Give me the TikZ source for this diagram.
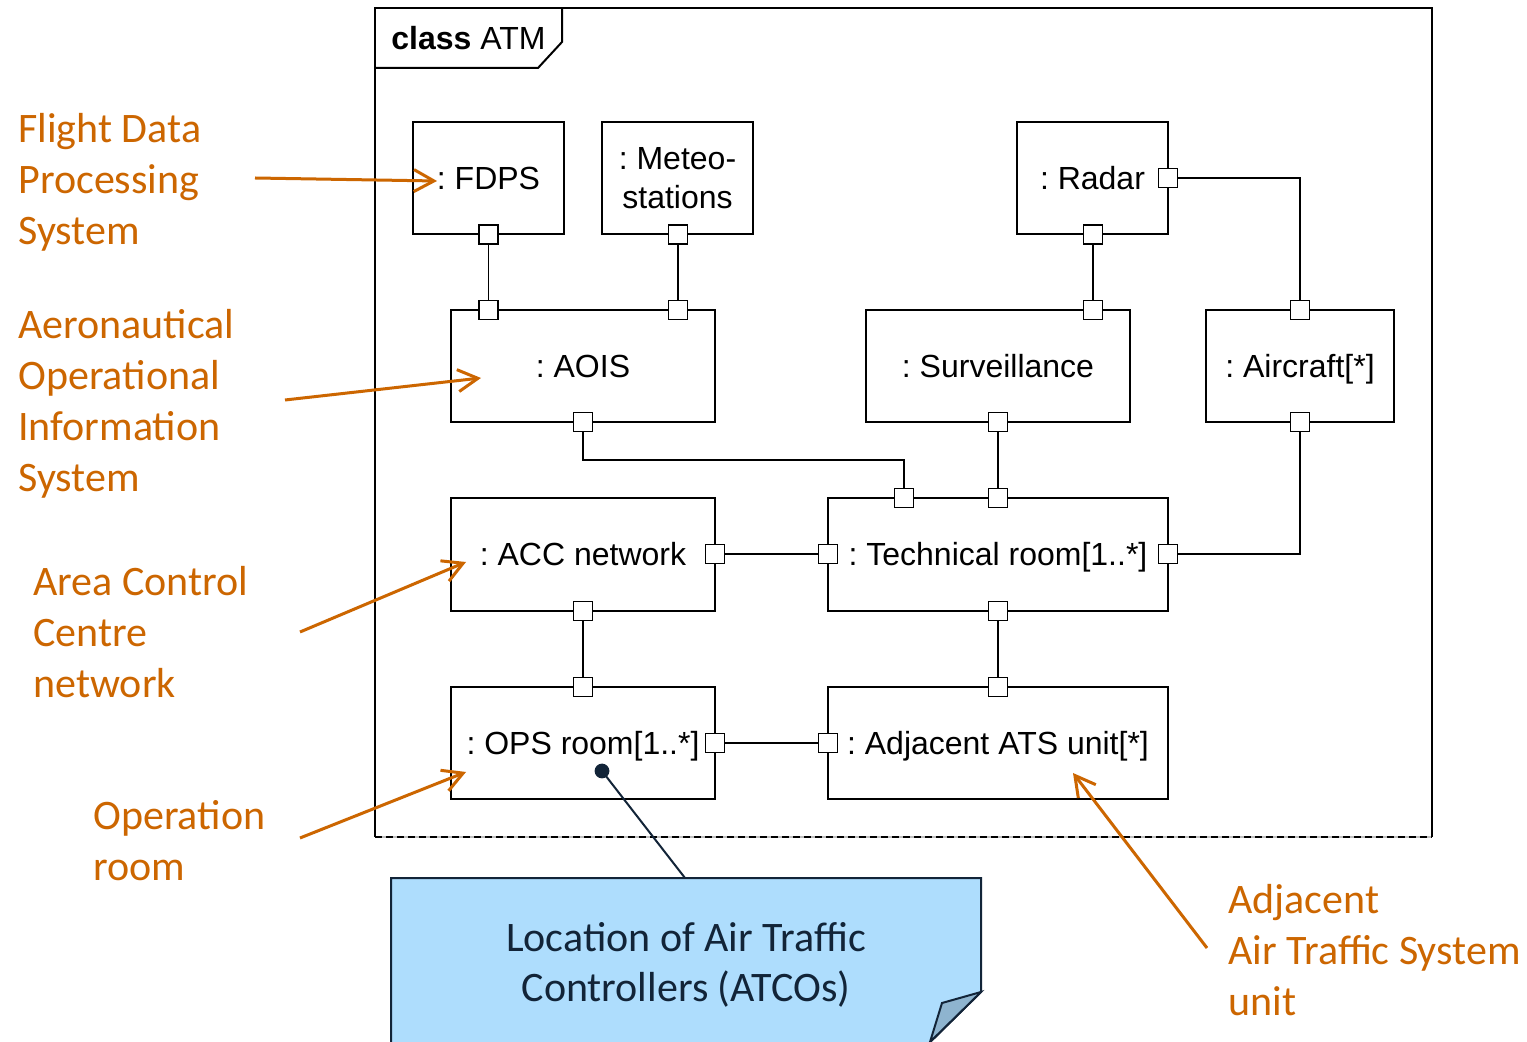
\documentclass[tikz,border=0pt]{standalone}
\usepackage{fontspec}
\setmainfont{Liberation Sans}
\newfontfamily\calib{Carlito}
\usetikzlibrary{arrows.meta}
\frenchspacing
\definecolor{orng}{RGB}{204,102,0}
\definecolor{notefill}{RGB}{174,221,253}
\definecolor{noteline}{RGB}{18,36,56}
\definecolor{foldfill}{RGB}{142,180,207}
\begin{document}
\begin{tikzpicture}[x=0.5pt,y=-0.5pt,
 box/.style={draw,line width=1pt,inner sep=0pt,font=\fontsize{16}{19.5}\selectfont,align=center},
 oneline/.style={text height=11.5pt,text depth=0pt},
 port/.style={draw,fill=white,line width=0.8pt,minimum size=9.5pt,inner sep=0pt},
 wire/.style={line width=0.8pt},
 lbl/.style={text=orng,font=\calib\fontsize{21}{25.5}\selectfont,align=left,inner sep=0pt,anchor=north west},
 pointer/.style={draw=orng,line width=1.5pt,-{Straight Barb[length=10pt,width=11pt,line width=1.5pt]}}
]
\path[use as bounding box, clip] (0,0) rectangle (1527,1042);
\fill[white] (0,0) rectangle (1527,1042);

% frame
\draw[line width=1pt] (375,837) -- (375,8) -- (1432,8) -- (1432,837);
\draw[line width=1pt, gray!50] (375,837) -- (1432,837);
\draw[line width=1pt, dash pattern=on 3.5pt off 2pt] (375,837) -- (1432,837);
\draw[line width=1pt] (375,68) -- (538,68) -- (562,42) -- (562,8);
\node[anchor=west, inner sep=0pt, font=\fontsize{16}{19}\selectfont] (hdr) at (391,38) {\textbf{class} ATM};

% boxes
\node[box, oneline, minimum width=75.5pt, minimum height=56pt] (fdps) at (488.5,178) {: FDPS};
\node[box, minimum width=75.5pt, minimum height=56pt] (meteo) at (677.5,178) {: Meteo-\\stations};
\node[box, oneline, minimum width=75.5pt, minimum height=56pt] (radar) at (1092.5,178) {: Radar};
\node[box, oneline, minimum width=132pt, minimum height=56pt] (aois) at (583,366) {: AOIS};
\node[box, oneline, minimum width=132pt, minimum height=56pt] (surv) at (998,366) {: Surveillance};
\node[box, oneline, minimum width=94pt, minimum height=56pt] (acft) at (1300,366) {: Aircraft[*]};
\node[box, oneline, minimum width=132pt, minimum height=56.5pt] (acc) at (583,554.5) {: ACC network};
\node[box, oneline, minimum width=170pt, minimum height=56.5pt] (tech) at (998,554.5) {: Technical room[1..*]};
\node[box, oneline, minimum width=132pt, minimum height=56pt] (ops) at (583,743) {: OPS room[1..*]};
\node[box, oneline, minimum width=170pt, minimum height=56pt] (adj) at (998,743) {: Adjacent ATS unit[*]};

% ports
\node[port] (pF) at (488.5,234.5) {};
\node[port] (pM) at (678,234.5) {};
\node[port] (pRb) at (1093,234.5) {};
\node[port] (pRr) at (1168,178) {};
\node[port] (pA1) at (488.5,310) {};
\node[port] (pA2) at (678,310) {};
\node[port] (pAb) at (583,422) {};
\node[port] (pSt) at (1093,310) {};
\node[port] (pSb) at (998,422) {};
\node[port] (pCt) at (1300,310) {};
\node[port] (pCb) at (1300,422) {};
\node[port] (pNr) at (715,554) {};
\node[port] (pNb) at (583,611) {};
\node[port] (pT1) at (904,498) {};
\node[port] (pT2) at (998,498) {};
\node[port] (pTl) at (828,554) {};
\node[port] (pTr) at (1168,554) {};
\node[port] (pTb) at (998,611) {};
\node[port] (pOt) at (583,687) {};
\node[port] (pOr) at (715,743) {};
\node[port] (pJt) at (998,687) {};
\node[port] (pJl) at (828,743) {};

% wires
\coordinate (bend1) at (904,460);
\draw[wire] (pF) -- (pA1);
\draw[wire] (pM) -- (pA2);
\draw[wire] (pRb) -- (pSt);
\draw[wire] (pRr.east) -| (pCt.north);
\draw[wire] (pAb.south) |- (bend1) -- (pT1.north);
\draw[wire] (pSb) -- (pT2);
\draw[wire] (pCb.south) |- (pTr.east);
\draw[wire] (pNr) -- (pTl);
\draw[wire] (pNb) -- (pOt);
\draw[wire] (pTb) -- (pJt);
\draw[wire] (pOr) -- (pJl);

% note
\draw[line width=1pt, draw=noteline, fill=notefill] (391,1060) -- (391,878) -- (981,878) -- (981,992) -- (912,1060) -- cycle;
\draw[line width=1pt, draw=noteline, fill=foldfill] (981,992) -- (942,1003) -- (930,1042) -- cycle;
\node[align=center, text=noteline, font=\calib\fontsize{21}{25}\selectfont, inner sep=0pt] (note) at (686,965) {Location of Air Traffic\\Controllers (ATCOs)};
\coordinate (dot) at (602,771);
\coordinate (notetop) at (685,878);
\fill[noteline] (dot) circle[radius=3.7pt];
\draw[line width=1pt, draw=noteline] (dot) -- (notetop);

% orange labels
\node[lbl] (l1) at (18,113) {Flight Data\\Processing\\System};
\node[lbl] (l2) at (18,309) {Aeronautical\\Operational\\Information\\System};
\node[lbl] (l3) at (33,566) {Area Control\\Centre\\network};
\node[lbl] (l4) at (93,800) {Operation\\room};
\node[lbl] (l5) at (1228,884) {Adjacent\\Air Traffic System\\unit};

\coordinate (s1) at (255,178); \coordinate (e1) at (437,181);
\coordinate (s2) at (285,400); \coordinate (e2) at (481,378);
\coordinate (s3) at (300,632); \coordinate (e3) at (466,562);
\coordinate (s4) at (300,838); \coordinate (e4) at (466,772);
\coordinate (s5) at (1207,948); \coordinate (e5) at (1073,773);
\draw[pointer] (s1) -- (e1);
\draw[pointer] (s2) -- (e2);
\draw[pointer] (s3) -- (e3);
\draw[pointer] (s4) -- (e4);
\draw[pointer] (s5) -- (e5);
\end{tikzpicture}
\end{document}
